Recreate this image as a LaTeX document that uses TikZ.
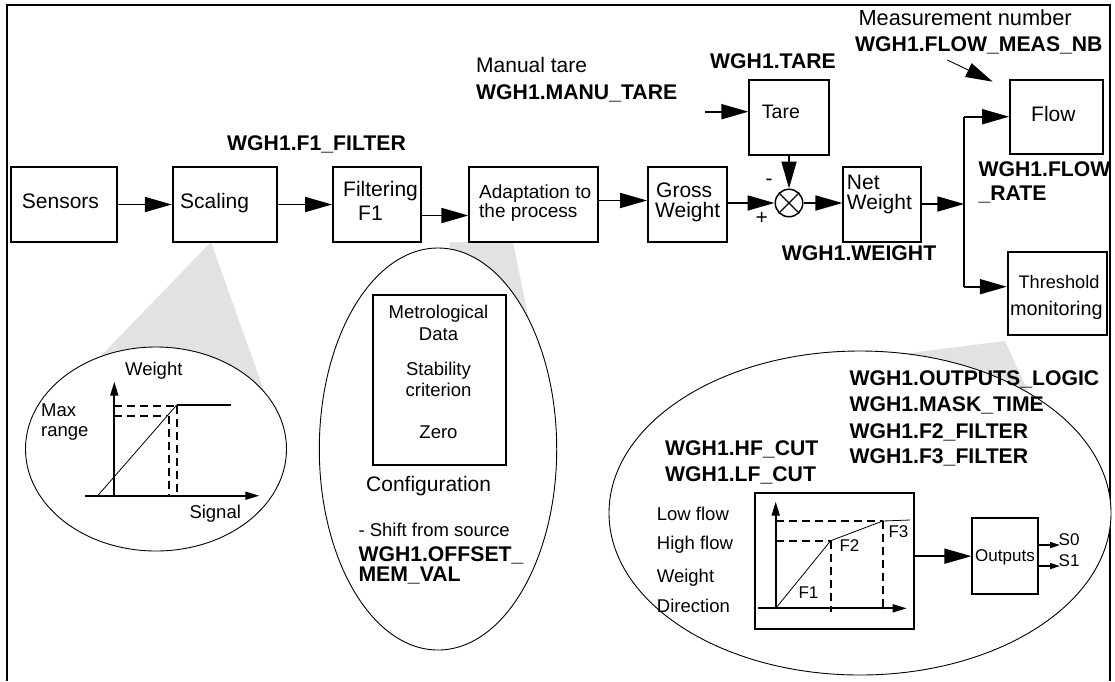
\documentclass[tikz,border=0pt]{standalone}
\usepackage{fontspec}
\setmainfont{Liberation Sans}
\usetikzlibrary{arrows.meta,calc,fit}
\definecolor{conegray}{RGB}{226,226,226}
\newcommand\bigf{\fontsize{21}{20}\selectfont}
\newcommand\smallf{\fontsize{18.5}{19}\selectfont}
\newcommand\tinyf{\fontsize{17}{17}\selectfont}

\begin{document}
\begin{tikzpicture}[x=1pt,y=-1pt,
  box/.style={draw,line width=1.8pt,fill=white,inner sep=0pt},
  lbl/.style={inner sep=0pt,anchor=base west,font=\bigf},
  slbl/.style={inner sep=0pt,anchor=base west,font=\smallf},
  clbl/.style={inner sep=0pt,anchor=base,font=\smallf},
  flbl/.style={inner sep=0pt,anchor=base west,font=\tinyf},
  tag/.style={inner sep=0pt,anchor=base west,font=\fontsize{21.2}{20}\selectfont\bfseries},
  arr/.style={line width=1.8pt,-{Triangle[length=27pt,width=15pt]}},
  smallarr/.style={line width=1.5pt,-{Triangle[length=10pt,width=6pt]}},
  axis/.style={line width=1.8pt,-{Triangle[length=14pt,width=8pt]}},
  thinln/.style={line width=0.8pt},
  dashln/.style={line width=1.6pt,dash pattern=on 8pt off 5pt},
  lens/.style={draw,line width=0.9pt,fill=white},
  cone/.style={fill=conegray,draw=none}]

\useasboundingbox (0,0) rectangle (1115,681);

% outer frame, open at the bottom
\draw[line width=2.5pt] (7,681) -- (7,5) -- (1110,5) -- (1110,681);

% magnifier cones
\fill[cone] (211,242) -- (268,402) -- (95,362) -- cycle;
\fill[cone] (450,242) -- (513,242) -- (530,325) -- (440,320) -- cycle;
\fill[cone] (1005,341) -- (1032,400) -- (870,358) -- cycle;

% detail lenses
\draw[lens] (156,449) ellipse [x radius=130.5pt, y radius=102pt];
\draw[lens] (438,449) ellipse [x radius=118.7pt, y radius=201pt];
\draw[lens] (860,513) ellipse [x radius=251pt, y radius=162pt];

% main chain of blocks
\node[box,fit={(11,167)(117,242)}] (sensors) {};
\node[box,fit={(172.7,167)(276.7,242)}] (scaling) {};
\node[box,fit={(333,167)(421,242)}] (filter) {};
\node[box,fit={(469.3,167)(598.3,242)}] (adapt) {};
\node[box,fit={(648,167)(726.7,242)}] (gross) {};
\node[box,fit={(843.3,167)(921,242)}] (net) {};
\node[box,fit={(749.3,80)(828.7,155)}] (tare) {};
\node[box,fit={(1010,80)(1103.3,154)}] (flow) {};
\node[box,fit={(1007.7,251.7)(1106.7,335)}] (thresh) {};
\node[draw,circle,line width=1.5pt,fill=white,minimum size=27.5pt,inner sep=0pt] (mult) at (789,203) {};
\draw[line width=1.2pt] (mult.north east) -- (mult.south west) (mult.north west) -- (mult.south east);

% block texts
\node[lbl] (sensorsT) at (21.7,208.3) {Sensors};
\node[lbl] (scalingT) at (180,208.3) {Scaling};
\node[lbl] (filterT1) at (343,196.7) {Filtering};
\node[lbl] (filterT2) at (358,220) {F1};
\node[lbl,font=\fontsize{19}{19}\selectfont] (adaptT1) at (479,198.5) {Adaptation to};
\node[lbl,font=\fontsize{19}{19}\selectfont] (adaptT2) at (479,217) {the process};
\node[lbl] (grossT1) at (656,197.5) {Gross};
\node[lbl] (grossT2) at (655,217.5) {Weight};
\node[lbl] (netT1) at (846.7,189) {Net};
\node[lbl] (netT2) at (846.7,209) {Weight};
\node[lbl,font=\fontsize{19.5}{19}\selectfont] (tareT) at (761.7,118.3) {Tare};
\node[lbl] (flowT) at (1031,121.7) {Flow};
\node[lbl,font=\fontsize{18.2}{19}\selectfont] (threshT1) at (1018.3,288.3) {Threshold};
\node[lbl,font=\fontsize{19.8}{19}\selectfont] (threshT2) at (1010,315) {monitoring};
\node[inner sep=0pt,font=\bigf] (minus) at (769,182) {-};
\node[inner sep=0pt,font=\bigf] (plus) at (761.7,218) {+};

% parameter tags
\node[tag] (tF1) at (227,150) {WGH1.F1\_FILTER};
\node[lbl] (manual) at (476,72.7) {Manual tare};
\node[tag] (tManu) at (476,99) {WGH1.MANU\_TARE};
\node[tag] (tTare) at (710,68.3) {WGH1.TARE};
\node[lbl,font=\fontsize{21.8}{20}\selectfont] (measnb) at (858.3,25) {Measurement number};
\node[tag] (tMeas) at (855,51.7) {WGH1.FLOW\_MEAS\_NB};
\node[tag] (tFlow1) at (978.3,176.7) {WGH1.FLOW};
\node[tag] (tFlow2) at (978.3,200) {\_RATE};
\node[tag] (tWeight) at (781.7,260) {WGH1.WEIGHT};

% connectors of the chain
\draw[arr] (sensors) -- (scaling);
\draw[arr] (scaling) -- (filter);
\draw[arr] ([yshift=-11pt]filter.east) -- ([yshift=-11pt]adapt.west);
\draw[arr] ([yshift=4pt]adapt.east) -- ([yshift=4pt]gross.west);
\draw[arr] (gross.east |- mult) -- (mult.west);
\draw[arr] (tare) -- (mult.north);
\draw[arr] (mult.east) -- (net.west |- mult);
\coordinate (tarein) at (705,111.7);
\draw[arr] (tarein) -- (tare.west |- tarein);
\coordinate (jn) at (964.3,204);
\coordinate (jtop) at (964.3,116.7);
\coordinate (jbot) at (964.3,286.7);
\draw[arr] (net.east |- jn) -- (jn);
\draw[line width=1.8pt] (jtop) -- (jbot);
\draw[arr] (jtop) -- (flow.west |- jtop);
\draw[arr] (jbot) -- (thresh.west |- jbot);
\coordinate (measfrom) at (947.3,60);
\coordinate (measto) at (992.7,81.7);
\draw[line width=0.9pt,-{Triangle[length=27pt,width=15pt]}] (measfrom) -- (measto);

% scaling lens: weight against signal
\node[slbl] (lW) at (125,375) {Weight};
\node[slbl] (lMax) at (41,416.7) {Max};
\node[slbl] (lRange) at (41,436.7) {range};
\node[slbl] (lSig) at (189.3,518.3) {Signal};
\draw[axis] (114.3,495.7) -- (114.3,381.7);
\draw[axis] (85,495.7) -- (259.3,495.7);
\draw[thinln] (97.7,495.7) -- (176.7,405);
\draw[line width=1.8pt] (176.7,405) -- (231,405);
\draw[dashln] (114.3,406) -- (176.7,406);
\draw[dashln] (114.3,415.7) -- (166.7,415.7);
\draw[dashln] (169,415.7) -- (169,495.7);
\draw[dashln] (176.7,406) -- (176.7,495.7);

% adaptation lens: configuration
\node[box,fit={(372.7,295)(505.7,465)}] (cfg) {};
\node[clbl] (cMet) at (438.5,318.3) {Metrological};
\node[clbl] (cData) at (438.5,340) {Data};
\node[clbl] (cStab) at (438.5,375) {Stability};
\node[clbl] (cCrit) at (438.5,396) {criterion};
\node[clbl] (cZero) at (438.5,438.3) {Zero};
\node[lbl] (cConf) at (366,491.7) {Configuration};
\node[slbl] (cShift) at (358.3,536) {- Shift from source};
\node[tag] (cOff1) at (358.3,561) {WGH1.OFFSET\_};
\node[tag] (cOff2) at (358.3,581.5) {MEM\_VAL};

% threshold lens: flow thresholds and outputs
\node[tag] (rLogic) at (849.3,385) {WGH1.OUTPUTS\_LOGIC};
\node[tag] (rMask) at (849.3,411.7) {WGH1.MASK\_TIME};
\node[tag] (rF2) at (849.3,438.3) {WGH1.F2\_FILTER};
\node[tag] (rF3) at (849.3,463.3) {WGH1.F3\_FILTER};
\node[tag] (rHF) at (665,455) {WGH1.HF\_CUT};
\node[tag] (rLF) at (665,481.7) {WGH1.LF\_CUT};
\node[slbl] (rLow) at (656.7,520) {Low flow};
\node[slbl] (rHigh) at (656.7,549) {High flow};
\node[slbl] (rWeight) at (656.7,582.3) {Weight};
\node[slbl] (rDir) at (656.7,612.7) {Direction};

\node[box,fit={(755,492.7)(914,629)}] (graph) {};
\draw[axis] (775.7,608.3) -- (775.7,501.7);
\draw[axis] (758.3,608.3) -- (906.7,608.3);
\draw[thinln] (775.7,608.3) -- (830.7,540.7) -- (882.7,521) -- (910,520);
\draw[dashln] (775.7,540.7) -- (830.7,540.7);
\draw[dashln] (775.7,521) -- (882.7,521);
\draw[dashln] (830.7,540.7) -- (830.7,612);
\draw[dashln] (882.7,521) -- (882.7,612);
\node[flbl] (gF1) at (798.3,598.3) {F1};
\node[flbl] (gF2) at (839.3,551.7) {F2};
\node[flbl] (gF3) at (888.3,537.3) {F3};

\node[box,fit={(972.3,518.3)(1037.7,594)}] (outputs) {};
\node[inner sep=0pt,anchor=base,font=\tinyf] (outputsT) at (1005,561) {Outputs};
\draw[arr] (graph.east |- outputs.west) -- (outputs.west);
\coordinate (s0end) at (1060,545);
\coordinate (s1end) at (1060,566);
\draw[smallarr] (outputs.east |- s0end) -- (s0end);
\draw[smallarr] (outputs.east |- s1end) -- (s1end);
\node[flbl] (s0) at (1058.5,545) {S0};
\node[flbl] (s1) at (1058.5,566.7) {S1};
\end{tikzpicture}
\end{document}
